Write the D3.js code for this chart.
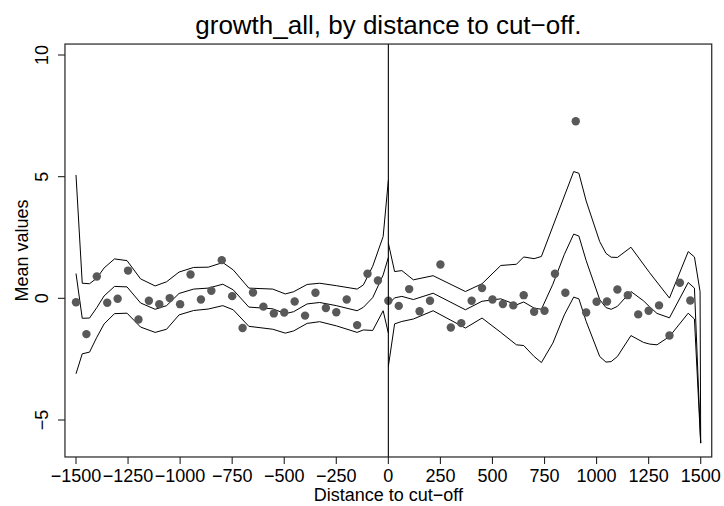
<!DOCTYPE html>
<html><head><meta charset="utf-8">
<script src="https://cdn.jsdelivr.net/npm/d3@7"></script>
<style>
body{margin:0;background:#fff}
svg{display:block}
text{font-family:"Liberation Sans",Arial,Helvetica,sans-serif;fill:#000}
</style>
</head><body>
<svg id="chart" width="724" height="506"></svg>
<script>
// ---- data ----
const titleText = "growth_all, by distance to cut\u2212off.";
const xLabel = "Distance to cut\u2212off";
const yLabel = "Mean values";
const xTicks = [-1500,-1250,-1000,-750,-500,-250,0,250,500,750,1000,1250,1500];
const yTicks = [-5,0,5,10];

// binned means
const binDistance = [-1500,-1450,-1400,-1350,-1300,-1250,-1200,-1150,-1100,-1050,
  -1000,-950,-900,-850,-800,-750,-700,-650,-600,-550,
  -500,-450,-400,-350,-300,-250,-200,-150,-100,-50,
  0,50,100,150,200,250,300,350,400,450,
  500,550,600,650,700,750,800,850,900,950,
  1000,1050,1100,1150,1200,1250,1300,1350,1400,1450];
const binMean = [-0.16,-1.47,0.90,-0.18,-0.02,1.14,-0.87,-0.10,-0.24,0.01,
  -0.24,0.98,-0.05,0.31,1.57,0.09,-1.22,0.24,-0.34,-0.62,
  -0.58,-0.13,-0.71,0.23,-0.40,-0.57,-0.05,-1.10,1.01,0.73,
  -0.10,-0.31,0.38,-0.53,-0.10,1.39,-1.20,-1.02,-0.10,0.42,
  -0.05,-0.23,-0.29,0.13,-0.55,-0.51,1.01,0.23,7.28,-0.58,
  -0.14,-0.13,0.36,0.13,-0.66,-0.51,-0.29,-1.53,0.64,-0.09];

// fitted line and band, left of cut-off
const leftGrid = [-1500,-1470,-1435,-1400,-1365,-1315,-1255,-1190,-1120,-1065,-1005,-935,-865,-795,-745,-670,-555,-495,-455,-390,-330,-250,-150,-120,-75,-25,0];
const leftUpper = [5.07,0.62,0.60,0.83,1.25,1.62,1.55,0.80,0.51,0.68,1.08,1.27,1.28,1.47,1.17,0.42,0.38,0.18,0.27,0.57,0.62,0.52,0.38,0.55,1.32,2.54,4.85];
const leftFit   = [1.02,-0.82,-0.81,-0.38,0.10,0.49,0.47,-0.19,-0.45,-0.30,0.20,0.38,0.42,0.58,0.35,-0.36,-0.43,-0.63,-0.55,-0.23,-0.17,-0.30,-0.51,-0.37,0.03,0.96,1.68];
const leftLower = [-3.10,-2.28,-2.21,-1.60,-1.05,-0.63,-0.61,-1.18,-1.40,-1.27,-0.68,-0.50,-0.44,-0.30,-0.47,-1.15,-1.27,-1.43,-1.34,-1.03,-0.96,-1.13,-1.40,-1.30,-1.32,-0.51,-1.43];

// fitted line and band, right of cut-off
const rightGrid = [0,30,65,120,215,370,450,540,615,650,700,735,790,845,890,915,950,1015,1045,1070,1100,1165,1225,1255,1290,1350,1440,1470,1500];
const rightFit   = [-0.25,0.02,0.08,-0.05,0.21,-0.47,-0.12,-0.02,-0.27,-0.15,-0.40,-0.45,0.58,1.80,2.64,2.56,1.55,-0.05,-0.38,-0.45,-0.33,0.28,-0.10,-0.35,-0.62,-0.80,0.65,0.42,-5.95];
const rightLower = [-2.80,-1.05,-0.95,-0.85,-0.51,-1.22,-0.81,-1.40,-1.91,-1.94,-2.39,-2.64,-1.84,-0.68,0.05,-0.02,-0.95,-2.39,-2.62,-2.60,-2.39,-1.53,-1.81,-1.88,-1.91,-1.57,-0.61,-0.85,-5.95];
const rightUpperGrid = [0,30,65,120,215,370,450,540,615,650,700,735,890,915,950,1015,1045,1070,1100,1165,1255,1350,1440,1470,1497,1500];
const rightUpper = [2.27,1.10,1.14,0.76,0.93,0.28,0.60,1.35,1.40,1.70,1.63,1.72,5.21,5.14,4.00,2.33,1.85,1.69,1.68,2.10,1.05,0.01,1.92,1.70,0.28,-5.95];

// ---- drawing ----
const svg = d3.select("#chart");
const x = d3.scaleLinear().domain([-1500,1500]).range([76,700.7]);
const y = d3.scaleLinear().domain([-5,10]).range([420,55]);
const box = {x0:x(-1553), x1:x(1553), y0:y(10.45), y1:y(-6.52)};

svg.append("text").attr("x",(box.x0+box.x1)/2).attr("y",34)
  .attr("text-anchor","middle").style("font-size","26px").text(titleText);

const line = d3.line().x(d=>x(d[0])).y(d=>y(d[1]));
const g = svg.append("g");
function drawLine(xs, ys){
  g.append("path").datum(xs.map((v,i)=>[v,ys[i]]))
   .attr("d",line).attr("fill","none").attr("stroke","#000").attr("stroke-width",1)
   .attr("stroke-linejoin","miter");
}
drawLine(leftGrid,leftUpper); drawLine(leftGrid,leftFit); drawLine(leftGrid,leftLower);
drawLine(rightUpperGrid,rightUpper); drawLine(rightGrid,rightFit); drawLine(rightGrid,rightLower);

g.selectAll("circle").data(binDistance).join("circle")
  .attr("cx",d=>x(d)).attr("cy",(d,i)=>y(binMean[i])).attr("r",4.2)
  .attr("fill","#595959");

// cut-off line
svg.append("line").attr("x1",x(0)).attr("x2",x(0)).attr("y1",box.y0).attr("y2",box.y1)
  .attr("stroke","#000").attr("stroke-width",1.1);

// frame
svg.append("rect").attr("x",box.x0).attr("y",box.y0).attr("width",box.x1-box.x0).attr("height",box.y1-box.y0)
  .attr("fill","none").attr("stroke","#222").attr("stroke-width",1.2);

// x axis
const fmt = v => (v<0? "\u2212"+Math.abs(v) : String(v));
const xa = svg.append("g");
xa.selectAll("line").data(xTicks).join("line")
  .attr("x1",d=>x(d)).attr("x2",d=>x(d)).attr("y1",box.y1).attr("y2",box.y1+7)
  .attr("stroke","#222").attr("stroke-width",1.1);
xa.selectAll("text").data(xTicks).join("text")
  .attr("x",d=>x(d)).attr("y",482).attr("text-anchor","middle").style("font-size","18px").text(fmt);
svg.append("text").attr("x",(box.x0+box.x1)/2).attr("y",501).attr("text-anchor","middle")
  .style("font-size","18px").text(xLabel);

// y axis
const ya = svg.append("g");
ya.selectAll("line").data(yTicks).join("line")
  .attr("x1",box.x0-7).attr("x2",box.x0).attr("y1",d=>y(d)).attr("y2",d=>y(d))
  .attr("stroke","#222").attr("stroke-width",1.1);
ya.selectAll("text").data(yTicks).join("text")
  .attr("transform",d=>`translate(48,${y(d)}) rotate(-90)`).attr("text-anchor","middle")
  .style("font-size","18px").text(fmt);
svg.append("text").attr("transform",`translate(28,${(box.y0+box.y1)/2}) rotate(-90)`)
  .attr("text-anchor","middle").style("font-size","18px").text(yLabel);
</script>
</body></html>
